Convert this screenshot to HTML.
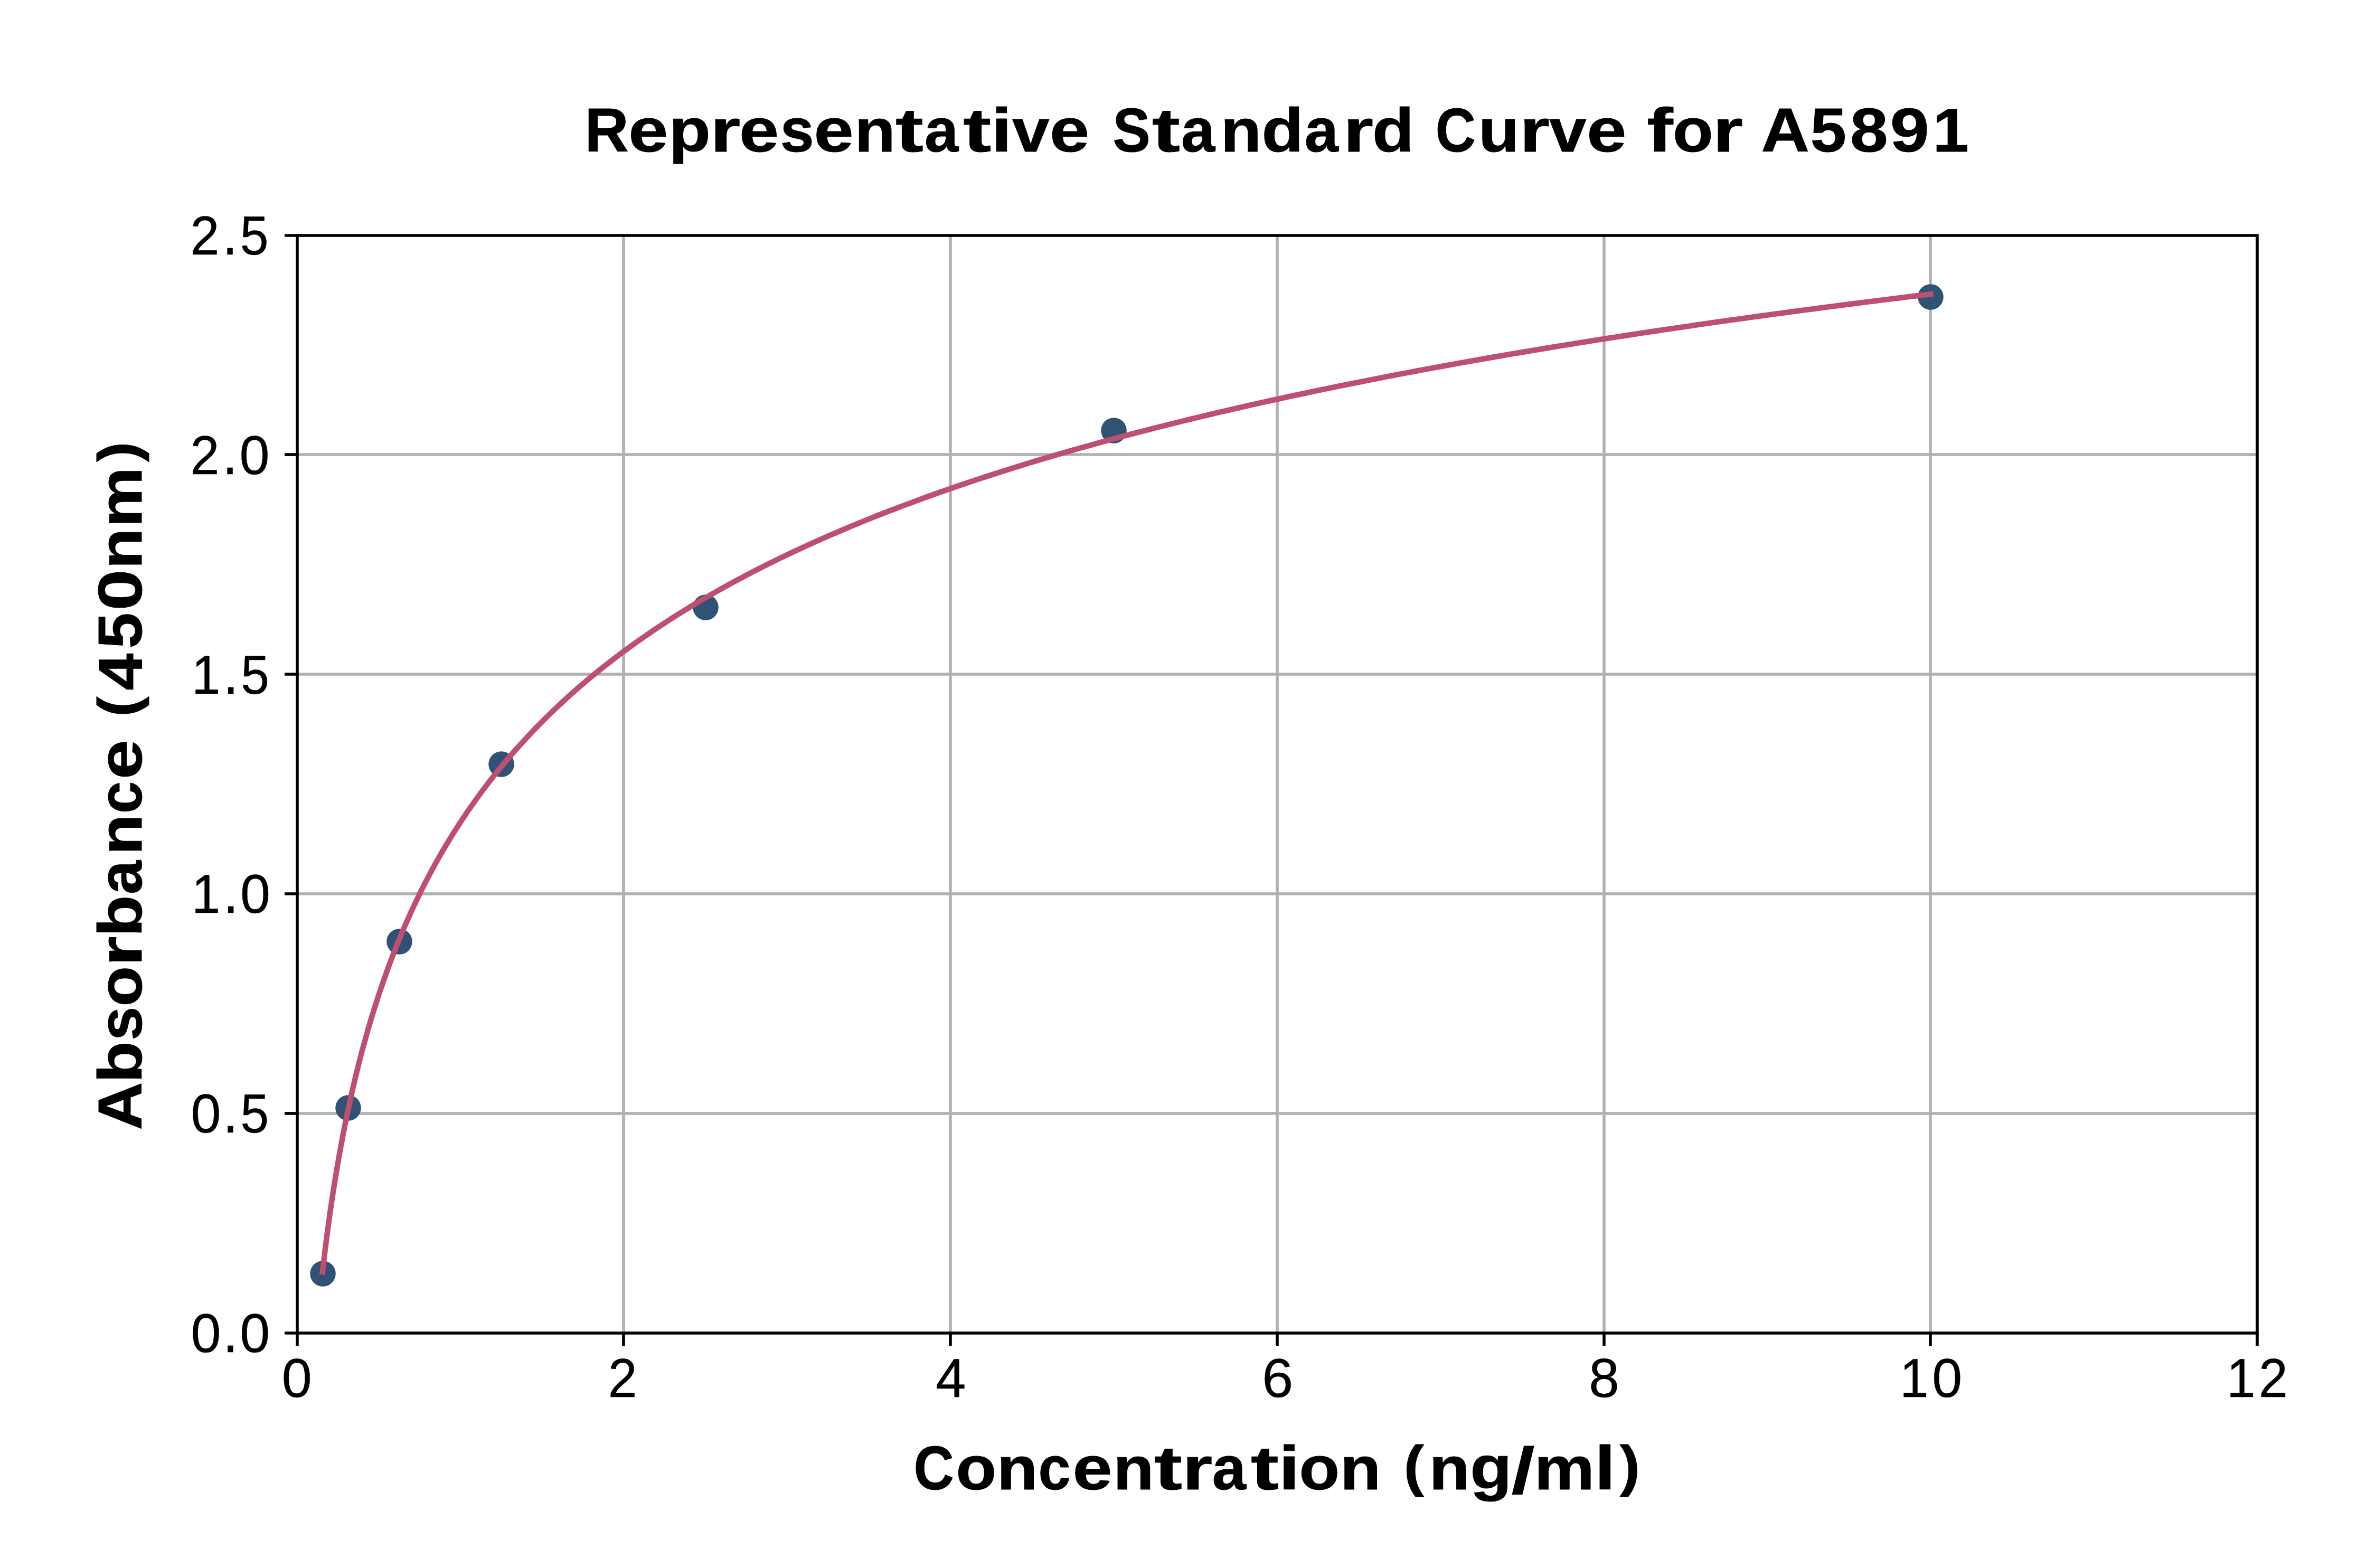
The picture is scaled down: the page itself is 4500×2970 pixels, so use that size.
<!DOCTYPE html>
<html><head><meta charset="utf-8"><title>Representative Standard Curve for A5891</title>
<style>html,body{margin:0;padding:0;background:#fff;overflow:hidden}svg{display:block}text{font-family:"Liberation Sans",sans-serif;fill:#000;font-kerning:none;white-space:pre}.t{font-weight:bold;stroke:#000;stroke-width:1.0px;stroke-linejoin:round}.r{stroke:#000;stroke-width:0.5px;stroke-linejoin:round}</style></head><body>
<svg width="4500" height="2970" viewBox="0 0 4500 2970">
<rect x="0" y="0" width="4500" height="2970" fill="#fff"/>
<path d="M1181 446V2525M1800 446V2525M2419 446V2525M3038 446V2525M3656 446V2525M563 2109H4275M563 1693H4275M563 1277H4275M563 861H4275" stroke="#b0b0b0" stroke-width="5.556" fill="none"/>
<circle cx="611.5" cy="2412.5" r="24.3" fill="#305275"/>
<circle cx="659.5" cy="2098.5" r="24.3" fill="#305275"/>
<circle cx="756.5" cy="1783.5" r="24.3" fill="#305275"/>
<circle cx="949.5" cy="1447.5" r="24.3" fill="#305275"/>
<circle cx="1336.5" cy="1150.5" r="24.3" fill="#305275"/>
<circle cx="2109.5" cy="815.5" r="24.3" fill="#305275"/>
<circle cx="3656.5" cy="562.5" r="24.3" fill="#305275"/>
<polyline points="610.8,2409.0 611.6,2402.3 612.4,2395.7 613.2,2389.0 614.0,2382.3 614.8,2375.6 615.6,2368.9 616.4,2362.2 617.3,2355.5 618.1,2348.7 619.0,2342.0 619.9,2335.2 620.8,2328.4 621.7,2321.6 622.6,2314.8 623.6,2308.0 624.5,2301.2 625.5,2294.3 626.5,2287.5 627.5,2280.6 628.5,2273.7 629.6,2266.9 630.6,2260.0 631.7,2253.0 632.8,2246.1 633.9,2239.2 635.0,2232.3 636.2,2225.3 637.3,2218.4 638.5,2211.4 639.7,2204.4 640.9,2197.4 642.1,2190.4 643.4,2183.4 644.7,2176.4 645.9,2169.4 647.3,2162.3 648.6,2155.3 649.9,2148.2 651.3,2141.1 652.7,2134.1 654.1,2127.0 655.6,2119.9 657.0,2112.8 658.5,2105.7 660.0,2098.5 661.6,2091.4 663.1,2084.3 664.7,2077.1 666.3,2070.0 667.9,2062.8 669.6,2055.7 671.3,2048.5 673.0,2041.3 674.7,2034.1 676.5,2026.9 678.3,2019.7 680.1,2012.5 682.0,2005.3 683.8,1998.1 685.7,1990.8 687.7,1983.6 689.7,1976.4 691.7,1969.1 693.7,1961.8 695.7,1954.6 697.8,1947.3 700.0,1940.0 702.1,1932.8 704.3,1925.5 706.6,1918.2 708.8,1910.9 711.1,1903.6 713.5,1896.3 715.8,1889.0 718.2,1881.7 720.7,1874.4 723.2,1867.0 725.7,1859.7 728.3,1852.4 730.9,1845.1 733.5,1837.7 736.2,1830.4 738.9,1823.0 741.7,1815.7 744.5,1808.3 747.4,1801.0 750.3,1793.6 753.3,1786.3 756.3,1778.9 759.3,1771.5 762.4,1764.2 765.5,1756.8 768.7,1749.4 772.0,1742.1 775.3,1734.7 778.6,1727.3 782.0,1719.9 785.5,1712.6 789.0,1705.2 792.5,1697.8 796.1,1690.4 799.8,1683.0 803.5,1675.7 807.3,1668.3 811.2,1660.9 815.1,1653.5 819.1,1646.1 823.1,1638.7 827.2,1631.4 831.4,1624.0 835.6,1616.6 839.9,1609.2 844.2,1601.8 848.7,1594.5 853.2,1587.1 857.7,1579.7 862.4,1572.3 867.1,1565.0 871.9,1557.6 885.9,1536.7 899.9,1516.7 913.9,1497.5 927.8,1479.1 941.8,1461.5 955.8,1444.4 969.8,1428.0 983.8,1412.2 997.8,1396.9 1011.8,1382.1 1025.8,1367.8 1039.8,1353.9 1053.8,1340.5 1067.8,1327.4 1081.8,1314.7 1095.7,1302.4 1109.7,1290.4 1123.7,1278.8 1137.7,1267.4 1151.7,1256.4 1165.7,1245.6 1179.7,1235.0 1193.7,1224.8 1207.7,1214.7 1221.7,1204.9 1235.7,1195.4 1249.7,1186.0 1263.6,1176.8 1277.6,1167.9 1291.6,1159.1 1305.6,1150.5 1319.6,1142.0 1333.6,1133.8 1347.6,1125.7 1361.6,1117.7 1375.6,1110.0 1389.6,1102.3 1403.6,1094.8 1417.6,1087.4 1431.5,1080.2 1445.5,1073.1 1459.5,1066.1 1473.5,1059.2 1487.5,1052.4 1501.5,1045.8 1515.5,1039.3 1529.5,1032.8 1543.5,1026.5 1557.5,1020.3 1571.5,1014.1 1585.5,1008.1 1599.5,1002.1 1613.4,996.3 1627.4,990.5 1641.4,984.8 1655.4,979.2 1669.4,973.7 1683.4,968.2 1697.4,962.8 1711.4,957.5 1725.4,952.3 1739.4,947.1 1753.4,942.0 1767.4,937.0 1781.3,932.0 1795.3,927.1 1809.3,922.3 1823.3,917.5 1837.3,912.8 1851.3,908.1 1865.3,903.5 1879.3,899.0 1893.3,894.5 1907.3,890.0 1921.3,885.6 1935.3,881.3 1949.2,877.0 1963.2,872.8 1977.2,868.6 1991.2,864.4 2005.2,860.3 2019.2,856.3 2033.2,852.2 2047.2,848.3 2061.2,844.4 2075.2,840.5 2089.2,836.6 2103.2,832.8 2117.1,829.0 2131.1,825.3 2145.1,821.6 2159.1,818.0 2173.1,814.4 2187.1,810.8 2201.1,807.2 2215.1,803.7 2229.1,800.2 2243.1,796.8 2257.1,793.4 2271.1,790.0 2285.1,786.6 2299.0,783.3 2313.0,780.0 2327.0,776.8 2341.0,773.6 2355.0,770.4 2369.0,767.2 2383.0,764.0 2397.0,760.9 2411.0,757.8 2425.0,754.8 2439.0,751.7 2453.0,748.7 2466.9,745.8 2480.9,742.8 2494.9,739.9 2508.9,737.0 2522.9,734.1 2536.9,731.2 2550.9,728.4 2564.9,725.6 2578.9,722.8 2592.9,720.0 2606.9,717.3 2620.9,714.5 2634.8,711.8 2648.8,709.1 2662.8,706.5 2676.8,703.8 2690.8,701.2 2704.8,698.6 2718.8,696.0 2732.8,693.5 2746.8,690.9 2760.8,688.4 2774.8,685.9 2788.8,683.4 2802.7,680.9 2816.7,678.5 2830.7,676.0 2844.7,673.6 2858.7,671.2 2872.7,668.8 2886.7,666.5 2900.7,664.1 2914.7,661.8 2928.7,659.5 2942.7,657.2 2956.7,654.9 2970.7,652.6 2984.6,650.4 2998.6,648.1 3012.6,645.9 3026.6,643.7 3040.6,641.5 3054.6,639.3 3068.6,637.1 3082.6,635.0 3096.6,632.8 3110.6,630.7 3124.6,628.6 3138.6,626.5 3152.5,624.4 3166.5,622.4 3180.5,620.3 3194.5,618.3 3208.5,616.2 3222.5,614.2 3236.5,612.2 3250.5,610.2 3264.5,608.2 3278.5,606.2 3292.5,604.3 3306.5,602.3 3320.4,600.4 3334.4,598.5 3348.4,596.6 3362.4,594.7 3376.4,592.8 3390.4,590.9 3404.4,589.0 3418.4,587.2 3432.4,585.3 3446.4,583.5 3460.4,581.7 3474.4,579.8 3488.3,578.0 3502.3,576.2 3516.3,574.5 3530.3,572.7 3544.3,570.9 3558.3,569.2 3572.3,567.4 3586.3,565.7 3600.3,564.0 3614.3,562.2 3628.3,560.5 3642.3,558.8 3656.2,557.1" fill="none" stroke="#be4f71" stroke-width="10.417" stroke-linecap="square" stroke-linejoin="round"/>
<rect x="563" y="446" width="3712" height="2079" fill="none" stroke="#000" stroke-width="5.556" stroke-linejoin="miter"/>
<path d="M563 2525v24M1181 2525v24M1800 2525v24M2419 2525v24M3038 2525v24M3656 2525v24M4275 2525v24M563 2525h-24M563 2109h-24M563 1693h-24M563 1277h-24M563 861h-24M563 446h-24" stroke="#000" stroke-width="5.556" fill="none"/>
<text class="r" font-size="104.03" transform="translate(-0.25,-0.5) translate(0,2646)"><tspan x="534.0" y="0.0" textLength="57.0" lengthAdjust="spacingAndGlyphs">0</tspan></text>
<text class="r" font-size="104.03" transform="translate(-0.25,-0.5) translate(0,2646)"><tspan x="1152.0" y="0.0" textLength="54.9" lengthAdjust="spacingAndGlyphs">2</tspan></text>
<text class="r" font-size="104.03" transform="translate(-0.25,-0.5) translate(0,2646)"><tspan x="1772.6" y="0.0" textLength="57.0" lengthAdjust="spacingAndGlyphs">4</tspan></text>
<text class="r" font-size="104.03" transform="translate(-0.25,-0.5) translate(0,2646)"><tspan x="2390.6" y="0.0" textLength="59.0" lengthAdjust="spacingAndGlyphs">6</tspan></text>
<text class="r" font-size="104.03" transform="translate(-0.25,-0.5) translate(0,2646)"><tspan x="3009.5" y="0.0" textLength="57.6" lengthAdjust="spacingAndGlyphs">8</tspan></text>
<text class="r" font-size="104.03" transform="translate(-0.25,-0.5) translate(0,2646)"><tspan x="3598.5" y="0.0" textLength="54.4" lengthAdjust="spacingAndGlyphs">1</tspan><tspan x="3659.6" y="0.0" textLength="57.0" lengthAdjust="spacingAndGlyphs">0</tspan></text>
<text class="r" font-size="104.03" transform="translate(-0.25,-0.5) translate(0,2646)"><tspan x="4217.5" y="0.0" textLength="54.4" lengthAdjust="spacingAndGlyphs">1</tspan><tspan x="4278.3" y="0.0" textLength="54.9" lengthAdjust="spacingAndGlyphs">2</tspan></text>
<text class="r" font-size="104.03" transform="translate(-0.5,0.5) translate(0,2560.50)"><tspan x="362.0" y="0.0" textLength="57.0" lengthAdjust="spacingAndGlyphs">0</tspan><tspan x="422.3" y="-0.0" font-size="112.8" textLength="29.2" lengthAdjust="spacingAndGlyphs">.</tspan><tspan x="454.7" y="0.0" textLength="57.0" lengthAdjust="spacingAndGlyphs">0</tspan></text>
<text class="r" font-size="104.03" transform="translate(-0.5,0.5) translate(0,2144.70)"><tspan x="362.0" y="0.0" textLength="57.0" lengthAdjust="spacingAndGlyphs">0</tspan><tspan x="422.3" y="-0.0" font-size="112.8" textLength="29.2" lengthAdjust="spacingAndGlyphs">.</tspan><tspan x="456.0" y="0.0" textLength="53.8" lengthAdjust="spacingAndGlyphs">5</tspan></text>
<text class="r" font-size="104.03" transform="translate(-0.5,0.5) translate(0,1728.90)"><tspan x="363.5" y="0.0" textLength="54.4" lengthAdjust="spacingAndGlyphs">1</tspan><tspan x="423.0" y="-0.0" font-size="112.8" textLength="29.2" lengthAdjust="spacingAndGlyphs">.</tspan><tspan x="455.5" y="0.0" textLength="57.0" lengthAdjust="spacingAndGlyphs">0</tspan></text>
<text class="r" font-size="104.03" transform="translate(-0.5,0.5) translate(0,1313.10)"><tspan x="363.5" y="0.0" textLength="54.4" lengthAdjust="spacingAndGlyphs">1</tspan><tspan x="423.0" y="-0.0" font-size="112.8" textLength="29.2" lengthAdjust="spacingAndGlyphs">.</tspan><tspan x="456.7" y="0.0" textLength="53.8" lengthAdjust="spacingAndGlyphs">5</tspan></text>
<text class="r" font-size="104.03" transform="translate(-0.5,0.5) translate(0,897.30)"><tspan x="361.0" y="0.0" textLength="54.9" lengthAdjust="spacingAndGlyphs">2</tspan><tspan x="421.5" y="-0.0" font-size="112.8" textLength="29.2" lengthAdjust="spacingAndGlyphs">.</tspan><tspan x="454.0" y="0.0" textLength="57.0" lengthAdjust="spacingAndGlyphs">0</tspan></text>
<text class="r" font-size="104.03" transform="translate(-0.5,0.5) translate(0,481.50)"><tspan x="361.0" y="0.0" textLength="54.9" lengthAdjust="spacingAndGlyphs">2</tspan><tspan x="421.5" y="-0.0" font-size="112.8" textLength="29.2" lengthAdjust="spacingAndGlyphs">.</tspan><tspan x="455.3" y="0.0" textLength="53.8" lengthAdjust="spacingAndGlyphs">5</tspan></text>
<text class="t" font-size="117.7" transform="translate(0.25,0.5) translate(0,286)"><tspan x="1107.3" y="0.0" textLength="83.2" lengthAdjust="spacingAndGlyphs">R</tspan><tspan x="1189.9" y="0.0" textLength="75.1" lengthAdjust="spacingAndGlyphs">e</tspan><tspan x="1266.6" y="-0.6" font-size="114.2" textLength="79.1" lengthAdjust="spacingAndGlyphs">p</tspan><tspan x="1345.1" y="-0.0" font-size="115.5" textLength="57.0" lengthAdjust="spacingAndGlyphs">r</tspan><tspan x="1399.8" y="0.0" textLength="75.1" lengthAdjust="spacingAndGlyphs">e</tspan><tspan x="1477.4" y="0.0" textLength="63.9" lengthAdjust="spacingAndGlyphs">s</tspan><tspan x="1541.3" y="0.0" textLength="75.1" lengthAdjust="spacingAndGlyphs">e</tspan><tspan x="1618.2" y="-0.0" font-size="115.5" textLength="77.3" lengthAdjust="spacingAndGlyphs">n</tspan><tspan x="1695.8" y="0.0" textLength="53.0" lengthAdjust="spacingAndGlyphs">t</tspan><tspan x="1750.8" y="0.0" textLength="64.1" lengthAdjust="spacingAndGlyphs">a</tspan><tspan x="1823.9" y="0.0" textLength="53.0" lengthAdjust="spacingAndGlyphs">t</tspan><tspan x="1877.0" y="0.0" textLength="39.3" lengthAdjust="spacingAndGlyphs">i</tspan><tspan x="1916.9" y="-0.0" font-size="115.0" textLength="70.2" lengthAdjust="spacingAndGlyphs">v</tspan><tspan x="1987.7" y="0.0" textLength="75.1" lengthAdjust="spacingAndGlyphs">e</tspan> <tspan x="2107.2" y="0.0" textLength="71.2" lengthAdjust="spacingAndGlyphs">S</tspan><tspan x="2181.8" y="0.0" textLength="53.0" lengthAdjust="spacingAndGlyphs">t</tspan><tspan x="2236.8" y="0.0" textLength="64.1" lengthAdjust="spacingAndGlyphs">a</tspan><tspan x="2311.4" y="-0.0" font-size="115.5" textLength="77.3" lengthAdjust="spacingAndGlyphs">n</tspan><tspan x="2389.2" y="0.0" textLength="79.1" lengthAdjust="spacingAndGlyphs">d</tspan><tspan x="2470.6" y="0.0" textLength="64.1" lengthAdjust="spacingAndGlyphs">a</tspan><tspan x="2543.8" y="-0.0" font-size="115.5" textLength="57.0" lengthAdjust="spacingAndGlyphs">r</tspan><tspan x="2598.7" y="0.0" textLength="79.1" lengthAdjust="spacingAndGlyphs">d</tspan> <tspan x="2718.6" y="0.0" textLength="76.1" lengthAdjust="spacingAndGlyphs">C</tspan><tspan x="2799.8" y="0.4" font-size="115.8" textLength="77.3" lengthAdjust="spacingAndGlyphs">u</tspan><tspan x="2877.7" y="-0.0" font-size="115.5" textLength="57.0" lengthAdjust="spacingAndGlyphs">r</tspan><tspan x="2934.1" y="-0.0" font-size="115.0" textLength="70.2" lengthAdjust="spacingAndGlyphs">v</tspan><tspan x="3004.9" y="0.0" textLength="75.1" lengthAdjust="spacingAndGlyphs">e</tspan> <tspan x="3119.1" y="0.0" textLength="49.4" lengthAdjust="spacingAndGlyphs">f</tspan><tspan x="3167.8" y="0.0" textLength="76.6" lengthAdjust="spacingAndGlyphs">o</tspan><tspan x="3243.8" y="-0.0" font-size="115.5" textLength="57.0" lengthAdjust="spacingAndGlyphs">r</tspan> <tspan x="3335.2" y="0.0" textLength="91.4" lengthAdjust="spacingAndGlyphs">A</tspan><tspan x="3428.6" y="0.0" textLength="68.2" lengthAdjust="spacingAndGlyphs">5</tspan><tspan x="3503.7" y="0.0" textLength="71.7" lengthAdjust="spacingAndGlyphs">8</tspan><tspan x="3579.4" y="0.0" textLength="74.0" lengthAdjust="spacingAndGlyphs">9</tspan><tspan x="3660.3" y="0.0" textLength="68.3" lengthAdjust="spacingAndGlyphs">1</tspan></text>
<text class="t" font-size="117.7" transform="translate(-0.25,-0.5) translate(0,2821)"><tspan x="1730.7" y="0.0" textLength="76.1" lengthAdjust="spacingAndGlyphs">C</tspan><tspan x="1810.8" y="0.0" textLength="76.6" lengthAdjust="spacingAndGlyphs">o</tspan><tspan x="1888.2" y="-0.0" font-size="115.5" textLength="77.3" lengthAdjust="spacingAndGlyphs">n</tspan><tspan x="1966.8" y="0.0" textLength="61.2" lengthAdjust="spacingAndGlyphs">c</tspan><tspan x="2031.7" y="0.0" textLength="75.1" lengthAdjust="spacingAndGlyphs">e</tspan><tspan x="2108.6" y="-0.0" font-size="115.5" textLength="77.3" lengthAdjust="spacingAndGlyphs">n</tspan><tspan x="2186.2" y="0.0" textLength="53.0" lengthAdjust="spacingAndGlyphs">t</tspan><tspan x="2239.5" y="-0.0" font-size="115.5" textLength="57.0" lengthAdjust="spacingAndGlyphs">r</tspan><tspan x="2296.1" y="0.0" textLength="64.1" lengthAdjust="spacingAndGlyphs">a</tspan><tspan x="2369.2" y="0.0" textLength="53.0" lengthAdjust="spacingAndGlyphs">t</tspan><tspan x="2422.3" y="0.0" textLength="39.3" lengthAdjust="spacingAndGlyphs">i</tspan><tspan x="2460.8" y="0.0" textLength="76.6" lengthAdjust="spacingAndGlyphs">o</tspan><tspan x="2538.2" y="-0.0" font-size="115.5" textLength="77.3" lengthAdjust="spacingAndGlyphs">n</tspan> <tspan x="2658.9" y="-7.4" font-size="106.2" textLength="38.2" lengthAdjust="spacingAndGlyphs">(</tspan><tspan x="2706.8" y="-0.0" font-size="115.5" textLength="77.3" lengthAdjust="spacingAndGlyphs">n</tspan><tspan x="2784.6" y="-0.3" font-size="114.7" textLength="79.2" lengthAdjust="spacingAndGlyphs">g</tspan><tspan x="2863.1" y="7.9" font-size="122.6" textLength="43.7" lengthAdjust="spacingAndGlyphs">/</tspan><tspan x="2906.0" y="-0.0" font-size="115.5" textLength="114.2" lengthAdjust="spacingAndGlyphs">m</tspan><tspan x="3020.4" y="0.0" textLength="39.3" lengthAdjust="spacingAndGlyphs">l</tspan><tspan x="3067.9" y="-7.4" font-size="106.2" textLength="38.2" lengthAdjust="spacingAndGlyphs">)</tspan></text>
<text class="t" font-size="117.7" transform="translate(0.5,0.5) translate(267,2137) rotate(-90)"><tspan x="-3.2" y="0.0" textLength="91.4" lengthAdjust="spacingAndGlyphs">A</tspan><tspan x="86.3" y="0.0" textLength="79.1" lengthAdjust="spacingAndGlyphs">b</tspan><tspan x="166.8" y="0.0" textLength="63.9" lengthAdjust="spacingAndGlyphs">s</tspan><tspan x="231.1" y="0.0" textLength="76.6" lengthAdjust="spacingAndGlyphs">o</tspan><tspan x="307.1" y="-0.0" font-size="115.5" textLength="57.0" lengthAdjust="spacingAndGlyphs">r</tspan><tspan x="363.1" y="0.0" textLength="79.1" lengthAdjust="spacingAndGlyphs">b</tspan><tspan x="443.4" y="0.0" textLength="64.1" lengthAdjust="spacingAndGlyphs">a</tspan><tspan x="518.0" y="-0.0" font-size="115.5" textLength="77.3" lengthAdjust="spacingAndGlyphs">n</tspan><tspan x="596.6" y="0.0" textLength="61.2" lengthAdjust="spacingAndGlyphs">c</tspan><tspan x="661.5" y="0.0" textLength="75.1" lengthAdjust="spacingAndGlyphs">e</tspan> <tspan x="779.9" y="-7.4" font-size="106.2" textLength="38.2" lengthAdjust="spacingAndGlyphs">(</tspan><tspan x="829.9" y="0.0" textLength="69.8" lengthAdjust="spacingAndGlyphs">4</tspan><tspan x="908.9" y="0.0" textLength="68.2" lengthAdjust="spacingAndGlyphs">5</tspan><tspan x="981.1" y="0.0" textLength="78.0" lengthAdjust="spacingAndGlyphs">0</tspan><tspan x="1059.7" y="-0.0" font-size="115.5" textLength="77.3" lengthAdjust="spacingAndGlyphs">n</tspan><tspan x="1138.6" y="-0.0" font-size="115.5" textLength="114.2" lengthAdjust="spacingAndGlyphs">m</tspan><tspan x="1262.4" y="-7.4" font-size="106.2" textLength="38.2" lengthAdjust="spacingAndGlyphs">)</tspan></text>
</svg></body></html>
